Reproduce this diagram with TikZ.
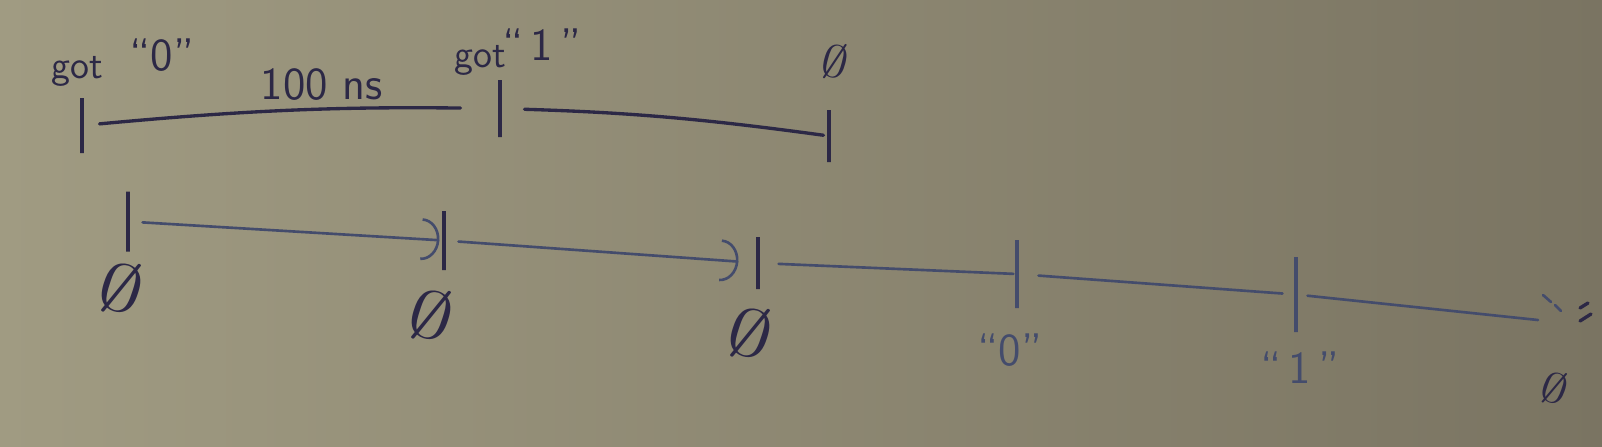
\documentclass[tikz,border=0pt]{standalone}
\usepackage{amsmath,amssymb}
\usetikzlibrary{arrows.meta}

\definecolor{boardL}{RGB}{160,155,130}
\definecolor{boardR}{RGB}{122,116,98}
\definecolor{inkA}{RGB}{44,40,70}
\definecolor{inkB}{RGB}{68,76,108}

\tikzset{
  pen/.style={line width=0.95pt, line cap=round, draw=inkA},
  penB/.style={line width=0.75pt, line cap=round, draw=inkB},
  tick/.style={draw, rectangle, minimum width=0pt, inner sep=0pt, line width=0.9pt},
  hand/.style={text=inkA, font=\sffamily\fontsize{13}{13}\selectfont, inner sep=1pt},
  small/.style={hand, font=\sffamily\fontsize{11}{11}\selectfont},
  nullset/.style={text=inkA, inner sep=0pt}
}
\newcommand{\bignull}{\rotatebox{-18}{\scalebox{2.5}[1.9]{$\emptyset$}}}

\begin{document}
\begin{tikzpicture}[>={Arc Barb[length=1.8mm,width=4.2mm]}]

% board
\shade[left color=boardL, right color=boardR] (0,0) rectangle (16.02,4.46);

% Ticks on the upper line
\node[tick, draw=inkA, minimum height=0.55cm] (T1) at (0.82,3.205) {};
\node[tick, draw=inkA, minimum height=0.57cm] (T2) at (5.00,3.375) {};
\node[tick, draw=inkA, minimum height=0.52cm] (T3) at (8.29,3.10)  {};

% Ticks on the lower line
\node[tick, draw=inkA, minimum height=0.60cm] (B1) at (1.28,2.245) {};
\node[tick, draw=inkA, minimum height=0.59cm] (B2) at (4.44,2.055) {};
\node[tick, draw=inkA, minimum height=0.52cm] (B3) at (7.58,1.83)  {};
\node[tick, draw=inkB, minimum height=0.68cm] (B4) at (10.17,1.72) {};
\node[tick, draw=inkB, minimum height=0.75cm] (B5) at (12.96,1.515) {};
\coordinate (E) at (15.38,1.26);

% Labels above
\node[small] (got0) at (0.77,3.75) {got};
\node[hand] (zero) at (1.62,3.91) {``0''};
\node[hand] (dt)   at (3.22,3.61) {100 ns};
\node[small] (got1) at (4.80,3.86) {got};
\node[hand] (one)  at (5.42,4.01) {``\,1\,''};
\node[nullset] (nT) at (8.35,3.84) {\rotatebox{-15}{\scalebox{1.5}[1.3]{$\emptyset$}}};

% Labels below
\node[nullset] (n1) at (1.22,1.58) {\bignull};
\node[nullset] (n2) at (4.32,1.31) {\bignull};
\node[nullset] (n3) at (7.51,1.13) {\bignull};
\node[hand, text=inkB] (v0) at (10.10,0.96) {``0''};
\node[hand, text=inkB] (v1) at (13.00,0.78) {``\,1\,''};
\node[nullset] (nE) at (15.55,0.58) {\rotatebox{-20}{\scalebox{1.5}[1.2]{$\emptyset$}}};

% Upper timeline
\draw[pen, shorten <=0.16cm, shorten >=0.38cm] (T1) to[bend left=3] (T2);
\draw[pen, shorten <=0.23cm, shorten >=0.04cm] (T2) to[bend left=3] (T3);

% Lower timeline
\draw[penB, ->, shorten <=0.13cm, shorten >=0.03cm] (B1) -- (B2);
\draw[penB, ->, shorten <=0.13cm, shorten >=0.18cm] (B2) -- (B3);
\draw[penB, shorten <=0.19cm, shorten >=0.02cm] (B3) -- (B4);
\draw[penB, shorten <=0.20cm, shorten >=0.12cm] (B4) -- (B5);
\draw[penB, shorten <=0.10cm] (B5) -- (E);

% marks at the end
\draw[penB] (15.43,1.51) -- (15.51,1.44);
\draw[penB] (15.55,1.41) -- (15.61,1.35);
\draw[pen] (15.80,1.38) -- (15.88,1.43);
\draw[pen] (15.80,1.25) -- (15.91,1.32);

\end{tikzpicture}
\end{document}
